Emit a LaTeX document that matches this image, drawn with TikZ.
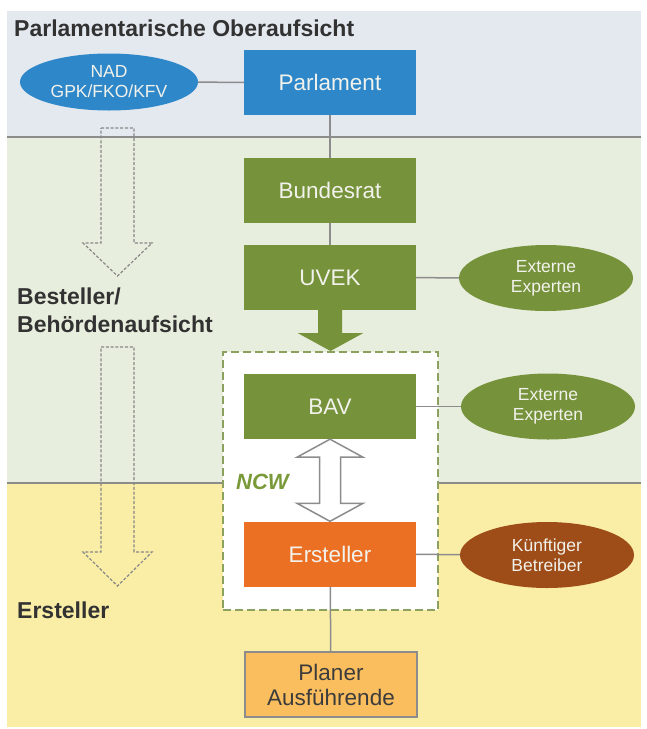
\documentclass[tikz,border=0pt]{standalone}
\usepackage{fontspec}
\setmainfont{Liberation Sans}
\usetikzlibrary{calc,shapes.geometric}
\definecolor{bandblue}{RGB}{228,233,240}
\definecolor{bandgreen}{RGB}{232,238,221}
\definecolor{bandyellow}{RGB}{250,237,166}
\definecolor{linegray}{RGB}{140,140,140}
\definecolor{dotgray}{RGB}{135,135,135}
\definecolor{pblue}{RGB}{46,135,200}
\definecolor{pgreen}{RGB}{118,146,58}
\definecolor{porange}{RGB}{236,112,36}
\definecolor{pbrown}{RGB}{158,76,24}
\definecolor{plight}{RGB}{250,190,95}
\definecolor{dashgreen}{RGB}{140,160,95}
\definecolor{ncwgreen}{RGB}{122,154,58}
\definecolor{labelgray}{RGB}{50,50,50}
\definecolor{boxtext}{RGB}{242,242,236}
\definecolor{darktext}{RGB}{60,60,60}
\begin{document}
\begin{tikzpicture}[x=1pt,y=-1pt,
  box/.style={rectangle, minimum width=172pt, minimum height=65pt, inner sep=0pt,
    text=boxtext, font=\fontsize{22.5}{25}\selectfont, align=center},
  ell/.style={ellipse, minimum width=174pt, minimum height=66pt, inner sep=0pt,
    text=boxtext, font=\fontsize{17.5}{20}\selectfont, align=center},
  conn/.style={draw=linegray, line width=1.5pt},
  sect/.style={anchor=base west, inner sep=0pt, text=labelgray,
    font=\bfseries\fontsize{23}{28}\selectfont},
  dotarrow/.style={draw=dotgray, line width=1.2pt, dash pattern=on 3pt off 1.8pt, line join=miter},
  hollow/.style={draw=linegray, line width=1.5pt, fill=white, line join=miter}
]
\useasboundingbox (0,0) rectangle (646,729);
\fill[white] (0,0) rectangle (646,729);
% bands
\fill[bandblue] (7,11) rectangle (641,137);
\fill[bandgreen] (7,137) rectangle (641,483);
\fill[bandyellow] (7,483) rectangle (641,727);
\draw[linegray, line width=2pt] (7,137) -- (641,137);
\draw[linegray, line width=2pt] (7,483) -- (641,483);

% section labels
\node[sect] (t1) at (14,36) {Parlamentarische Oberaufsicht};
\node[sect] (t2) at (17,304) {Besteller/};
\node[sect] (t3) at (17,332) {Behördenaufsicht};
\node[sect] (t4) at (17,618) {Ersteller};

% left dotted hollow arrows
\draw[dotarrow] (101,128) -- (134,128) -- (134,243) -- (152,243) -- (117.5,276)
  -- (83,243) -- (101,243) -- cycle;
\draw[dotarrow] (101,347) -- (134,347) -- (134,552) -- (152,552) -- (117.5,586)
  -- (83,552) -- (101,552) -- cycle;

% NCW dashed frame
\node[draw=dashgreen, fill=white, line width=2pt, dash pattern=on 8pt off 4pt,
  minimum width=215pt, minimum height=258pt, inner sep=0pt] (ncw) at (330.5,481) {};
\node[anchor=base west, inner sep=0pt, text=ncwgreen,
  font=\bfseries\itshape\fontsize{22}{26}\selectfont] (ncwlabel) at (236,489) {NCW};

% boxes
\node[box, fill=pblue] (parl) at (330,82.5) {Parlament};
\node[box, fill=pgreen] (br) at (330,190.5) {Bundesrat};
\node[box, fill=pgreen] (uvek) at (330,277.5) {UVEK};
\node[box, fill=pgreen] (bav) at (330,406.5) {BAV};
\node[box, fill=porange] (ers) at (330,554) {Ersteller};
\node[box, fill=plight, draw=linegray, line width=1.5pt, text=darktext,
  font=\fontsize{22.5}{25}\selectfont] (plan) at (331,684.5) {Planer\\Ausführende};

% ellipses
\node[ell, fill=pblue, minimum width=178pt, minimum height=57pt] (nad) at (109,82) {NAD\\GPK/FKO/KFV};
\node[ell, fill=pgreen] (ee1) at (546,278) {Externe\\Experten};
\node[ell, fill=pgreen] (ee2) at (548,406.5) {Externe\\Experten};
\node[ell, fill=pbrown] (kb) at (547,555) {Künftiger\\Betreiber};

% connectors
\draw[conn] (nad) -- (parl);
\draw[conn] (parl) -- (br);
\draw[conn] (br) -- (uvek);
\draw[conn] (uvek) -- (ee1);
\draw[conn] (bav) -- (ee2);
\draw[conn] (ers) -- (kb);
\draw[conn] (ers) -- (plan);

% big green arrow UVEK -> NCW frame
\fill[pgreen] ($(uvek.south)+(-12,0)$) -- ($(uvek.south)+(-12,23)$) -- ($(uvek.south)+(-32,23)$)
  -- (ncw.north) -- ($(uvek.south)+(33,23)$) -- ($(uvek.south)+(12,23)$)
  -- ($(uvek.south)+(12,0)$) -- cycle;

% hollow double arrow BAV <-> Ersteller
\draw[hollow] (bav.south) -- ($(bav.south)+(33,18)$) -- ($(bav.south)+(10.5,18)$)
  -- ($(ers.north)+(10.5,-18)$) -- ($(ers.north)+(33,-18)$) -- (ers.north)
  -- ($(ers.north)+(-33,-18)$) -- ($(ers.north)+(-10.5,-18)$)
  -- ($(bav.south)+(-10.5,18)$) -- ($(bav.south)+(-33,18)$) -- cycle;
\end{tikzpicture}
\end{document}
